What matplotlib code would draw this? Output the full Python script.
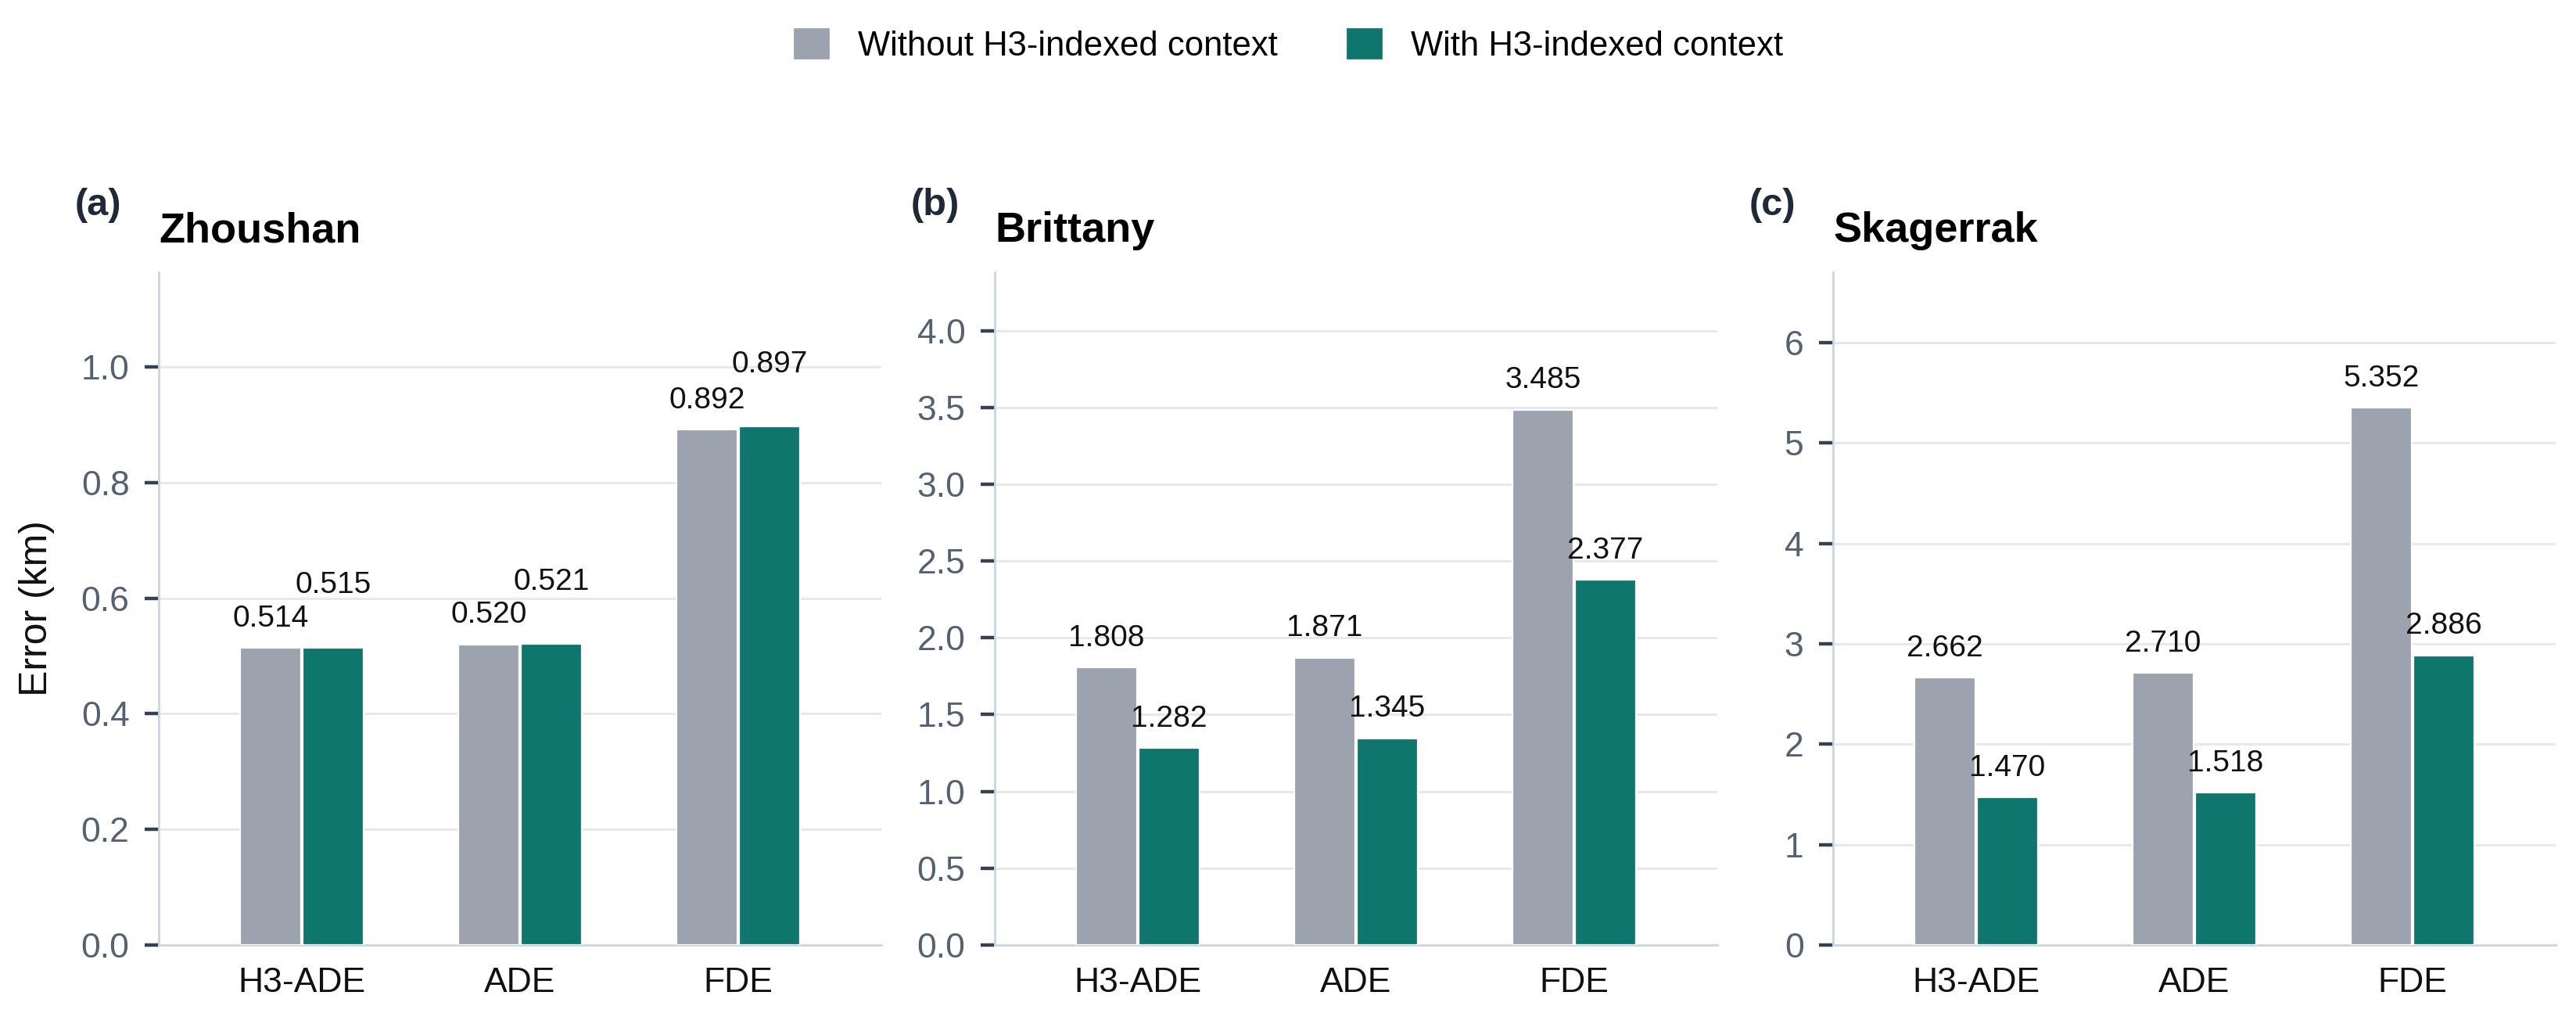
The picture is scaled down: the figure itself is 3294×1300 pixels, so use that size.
import numpy as np
import matplotlib
matplotlib.use("Agg")
import matplotlib.pyplot as plt

plt.rcParams['font.family'] = ['Liberation Sans', 'DejaVu Sans']

metrics = ["H3-ADE", "ADE", "FDE"]
regions = ["Zhoushan", "Brittany", "Skagerrak"]
panel_tags = ["(a)", "(b)", "(c)"]
series_names = ["Without H3-indexed context", "With H3-indexed context"]

without_ctx = [
    [0.514, 0.520, 0.892],
    [1.808, 1.871, 3.485],
    [2.662, 2.710, 5.352],
]
with_ctx = [
    [0.515, 0.521, 0.897],
    [1.282, 1.345, 2.377],
    [1.470, 1.518, 2.886],
]

y_tops = [1.164, 4.38, 6.70]
y_steps = [0.2, 0.5, 1.0]
y_fmt = ["{:.1f}", "{:.1f}", "{:.0f}"]

gray = "#9CA3AF"
teal = "#0F766E"
grid_c = "#E5E7EB"
spine_c = "#CBD5E1"
tick_c = "#4B5563"

fig = plt.figure(figsize=(16.47, 6.5), dpi=200)
lefts = [203 / 3294, 1272 / 3294, 2344 / 3294]
width = 924 / 3294
bottom = 1 - 1208 / 1300
height = 860 / 1300

x = np.arange(len(metrics))
bw = 0.28
off = 0.143

for i, region in enumerate(regions):
    ax = fig.add_axes([lefts[i], bottom, width, height])
    a = without_ctx[i]
    b = with_ctx[i]
    ax.bar(x - off, a, bw, color=gray, edgecolor="white", linewidth=0.8,
           label=series_names[0], zorder=3)
    ax.bar(x + off, b, bw, color=teal, edgecolor="white", linewidth=0.8,
           label=series_names[1], zorder=3)

    ax.set_xlim(-0.656, 2.656)
    ax.set_ylim(0, y_tops[i])
    ticks = np.arange(0, y_tops[i], y_steps[i])
    ax.set_yticks(ticks)
    ax.set_yticklabels([y_fmt[i].format(t) for t in ticks])
    ax.set_xticks(x)
    ax.set_xticklabels(metrics)

    # value labels; nudge the teal one up when the pair is nearly equal
    for j in range(len(metrics)):
        ax.annotate(f"{a[j]:.3f}", (x[j] - off, a[j]), xytext=(0, 7),
                    textcoords="offset points", ha="center", va="bottom",
                    fontsize=14, color="#111111", zorder=4)
        extra = 15 if abs(a[j] - b[j]) < 0.03 * y_tops[i] else 0
        ax.annotate(f"{b[j]:.3f}", (x[j] + off, b[j]), xytext=(0, 7 + extra),
                    textcoords="offset points", ha="center", va="bottom",
                    fontsize=14, color="#111111", zorder=4)

    ax.yaxis.grid(True, color=grid_c, linewidth=1.0, zorder=0)
    ax.set_axisbelow(True)
    for s in ["top", "right"]:
        ax.spines[s].set_visible(False)
    for s in ["left", "bottom"]:
        ax.spines[s].set_color(spine_c)
        ax.spines[s].set_linewidth(1.0)

    ax.tick_params(axis="y", length=6.5, width=1.6, color="#374151",
                   labelsize=16, labelcolor="#556070", pad=7)
    ax.tick_params(axis="x", length=0, labelsize=16, labelcolor="#111111", pad=10)

    ax.set_title(region, loc="left", fontsize=19.5, fontweight="bold", pad=14)
    ax.text(-0.116, 1.085, panel_tags[i], transform=ax.transAxes, ha="left",
            va="baseline", fontsize=17.5, fontweight="bold", color="#1f2937")

    if i == 0:
        ax.set_ylabel("Error (km)", fontsize=18, color="#111111", labelpad=12)
        handles, labels = ax.get_legend_handles_labels()

fig.legend(handles, labels, loc="center", bbox_to_anchor=(0.5, 0.956), ncol=2,
           frameon=False, fontsize=15.7, handlelength=1.1, handleheight=1.1,
           columnspacing=2.0, handletextpad=0.8)

fig.savefig("out.png", dpi=200, facecolor="white")
